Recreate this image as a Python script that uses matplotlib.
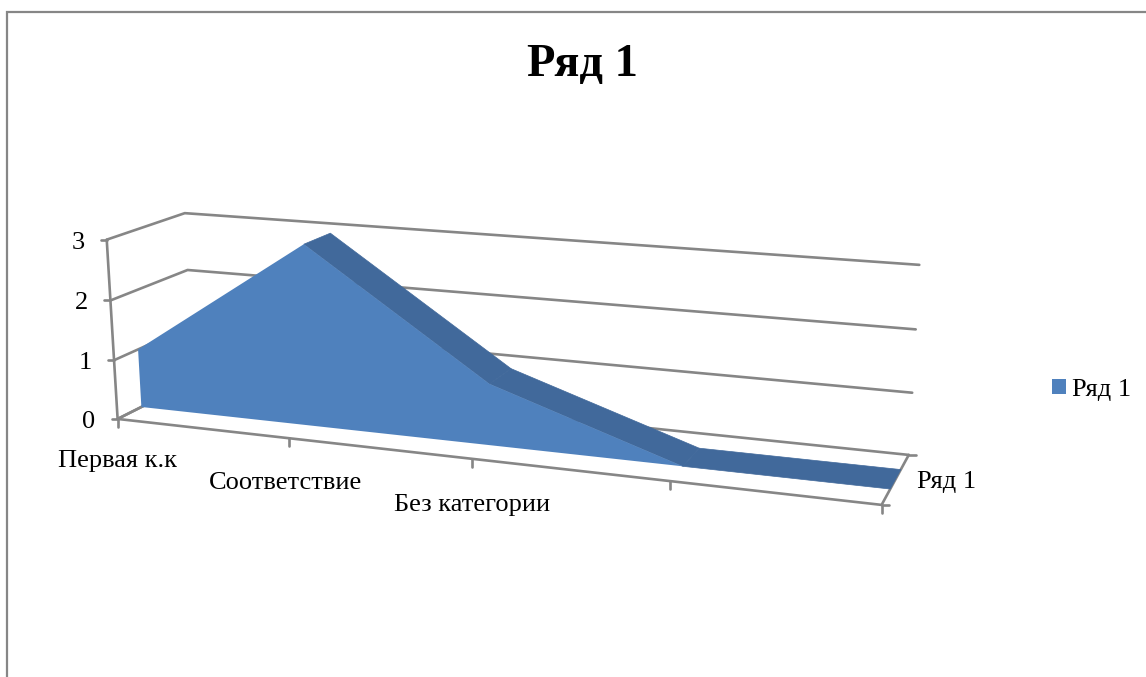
import numpy as np
import matplotlib
matplotlib.use("Agg")
import matplotlib.pyplot as plt

plt.rcParams['font.family'] = ['Liberation Serif', 'DejaVu Serif']

# === 1. Data ===
title = "Ряд 1"
series_name = "Ряд 1"
categories = ["Первая к.к", "Соответствие", "Без категории", "", ""]
values = [1, 3, 1, 0, 0]
value_ticks = [0, 1, 2, 3]

# depth of the area inside the box (0 = front, 1 = back)
depth_front = 0.30
depth_back = 0.69

FRONT = "#4f81bd"
TOP = "#41699b"
GRID = "#868686"

# === 2. Camera: (category, value, depth) -> picture pixels, fitted on the box corners ===
box_points = [
    (0, 3, 0, 106.7, 240), (0, 2, 0, 110.3, 300), (0, 1, 0, 114, 360), (0, 0, 0, 117.7, 419),
    (1, 0, 0, 289, 438.3), (2, 0, 0, 473, 459), (3, 0, 0, 669, 481), (4, 0, 0, 881.7, 505),
    (0, 3, 1, 185, 213.3), (0, 2, 1, 187.3, 270), (4, 3, 1, 919, 265), (4, 2, 1, 916, 329),
    (4, 1, 1, 912.7, 392.7), (4, 0, 1, 908.3, 455),
]
rows = []
for c, v, d, px, py in box_points:
    rows.append([c, v, d, 1, 0, 0, 0, 0, -px * c, -px * v, -px * d, -px])
    rows.append([0, 0, 0, 0, c, v, d, 1, -py * c, -py * v, -py * d, -py])
cam = np.linalg.svd(np.array(rows, dtype=float))[2][-1].reshape(3, 4)


def project(c, v, d):
    c, v, d = np.broadcast_arrays(c, v, d)
    p = cam @ np.stack([c, v, d, np.ones_like(c)]).astype(float)
    return p[0] / p[2], p[1] / p[2]


# === 3. Plot ===
fig = plt.figure(figsize=(11.46, 6.77), dpi=100)
ax = fig.add_axes([0, 0, 1, 1])
ax.set_xlim(0, 1146)
ax.set_ylim(677, 0)
ax.axis("off")

# outer chart border
ax.plot([7, 7, 1146], [677, 12, 12], color=GRID, lw=1.6, solid_joinstyle="miter")

n = len(values) - 1
line = dict(color=GRID, lw=1.9, solid_capstyle="round", zorder=1)

# gridlines on side wall and back wall
for v in value_ticks:
    x, y = project([0, 0, n], v, [0, 1, 1])
    ax.plot(x, y, **line)
    x0, y0 = project(0, v, 0)
    ax.plot([x0 - 6, x0], [y0, y0], **line)
    ax.text(x0 - 22, y0 + 3, str(v), fontsize=19, ha="right", va="center", color="black")

# floor edges and value axis
x, y = project([0, n, n], 0, [0, 0, 1])
ax.plot(x, y, **line)
x, y = project(0, [0, 3], 0)
ax.plot(x, y, **line)
x, y = project(0, 0, [0, 1])
ax.plot(x, y, **line)

# category ticks and labels
label_x = [118, 285.5, 472]
label_y = [461, 483, 505]
for i, cat in enumerate(categories):
    x0, y0 = project(i, 0, 0)
    ax.plot([x0, x0], [y0, y0 + 8], **line)
    if cat:
        ax.text(label_x[i], label_y[i], cat, fontsize=19, ha="center", va="center", color="black")

# depth ticks and label
for d in [0, 1]:
    x0, y0 = project(n, 0, d)
    ax.plot([x0, x0 + 7], [y0, y0], **line)
ax.text(917, 482, series_name, fontsize=19, ha="left", va="center", color="black")

# area: top strips where the surface faces us, then the front face
for i in range(n):
    if values[i + 1] <= values[i]:
        vs = [values[i], values[i + 1], values[i + 1], values[i]]
        x, y = project([i, i + 1, i + 1, i], vs, [depth_front, depth_front, depth_back, depth_back])
        ax.fill(x, y, facecolor=TOP, edgecolor=TOP, lw=0.5, zorder=2)

cats = np.arange(len(values))
x_top, y_top = project(cats, values, depth_front)
x_bot, y_bot = project(cats, 0, depth_front)
area = ax.fill(np.r_[x_top, x_bot[::-1]], np.r_[y_top, y_bot[::-1]], facecolor=FRONT, edgecolor="none", lw=0,
               zorder=3, label=series_name)

ax.text(582.5, 65, title, fontsize=33.5, fontweight="bold", ha="center", va="center", color="black")

ax.legend(handles=area, loc="center left", bbox_to_anchor=(1052 / 1146, 1 - 390 / 677), frameon=False,
          fontsize=19, handlelength=0.53, handleheight=0.53, handletextpad=0.24, borderpad=0, borderaxespad=0)

plt.savefig("out.png", dpi=100)
